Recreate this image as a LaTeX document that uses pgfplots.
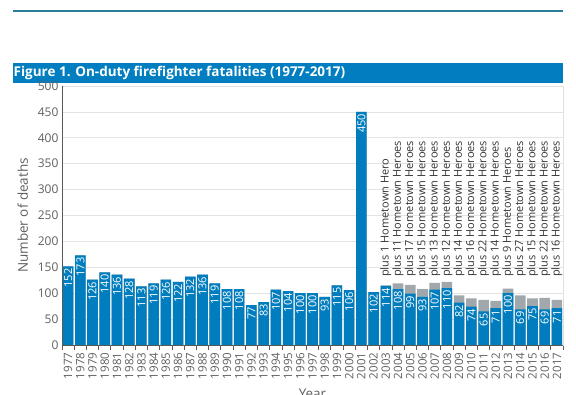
\documentclass[border=0pt]{standalone}
\usepackage{pgfplots}
\pgfplotsset{compat=1.18}
\usepackage{pgfplotstable}
\usepackage{fontspec}
\setmainfont{Open Sans}
\definecolor{barblue}{RGB}{0,125,190}
\definecolor{bargray}{RGB}{160,168,172}
\definecolor{titleblue}{RGB}{0,126,192}
\definecolor{lineteal}{RGB}{40,125,155}
\definecolor{ticktext}{RGB}{95,95,95}
\definecolor{tickmark}{RGB}{110,85,85}
\tikzset{hh/.style={rotate=90, anchor=west, inner sep=0pt, text=black!80, font=\fontsize{11}{12}\selectfont}}

\pgfplotstableread{
x year blue gray
0 1977 152 0
1 1978 173 0
2 1979 126 0
3 1980 140 0
4 1981 136 0
5 1982 128 0
6 1983 113 0
7 1984 119 0
8 1985 126 0
9 1986 122 0
10 1987 132 0
11 1988 136 0
12 1989 119 0
13 1990 108 0
14 1991 108 0
15 1992 77 0
16 1993 83 0
17 1994 107 0
18 1995 104 0
19 1996 100 0
20 1997 100 0
21 1998 93 0
22 1999 115 0
23 2000 106 0
24 2001 450 0
25 2002 102 0
26 2003 114 1
27 2004 108 11
28 2005 99 17
29 2006 93 15
30 2007 107 13
31 2008 110 12
32 2009 82 14
33 2010 74 16
34 2011 65 22
35 2012 71 14
36 2013 100 9
37 2014 69 27
38 2015 75 15
39 2016 69 22
40 2017 71 16
}\fatdata

\begin{document}
\begin{tikzpicture}[x=1pt,y=1pt]
\useasboundingbox (0pt,0pt) rectangle (576pt,-395pt);
\draw[lineteal, line width=1.8pt] (13pt,-11pt) -- (563pt,-11pt);
\fill[titleblue] (13pt,-63pt) rectangle (563pt,-83pt);
\node[anchor=west, text=white, font=\bfseries\fontsize{13.5}{15}\selectfont, inner sep=0pt] at (13.5pt,-73pt) {Figure 1. On-duty firefighter fatalities (1977-2017)};
\begin{axis}[
  at={(62pt,-345pt)}, anchor=south west,
  scale only axis, width=501pt, height=259pt,
  xmin=-0.5, xmax=40.5, ymin=0, ymax=500,
  ybar, bar shift=0pt, bar width=10.6pt,
  xtick={0,...,40},
  xticklabels={1977,1978,1979,1980,1981,1982,1983,1984,1985,1986,1987,1988,1989,1990,1991,1992,1993,1994,1995,1996,1997,1998,1999,2000,2001,2002,2003,2004,2005,2006,2007,2008,2009,2010,2011,2012,2013,2014,2015,2016,2017},
  x tick label style={rotate=90, anchor=east, text=ticktext, font=\fontsize{11.5}{12}\selectfont},
  major x tick style={draw=none},
  minor xtick={-0.5,0.5,...,40.5},
  every minor tick/.append style={draw=tickmark, line width=0.8pt},
  minor tick length=5pt,
  xtick pos=bottom, xtick align=outside,
  ytick={0,50,...,500},
  major y tick style={draw=none},
  y tick label style={text=ticktext, font=\fontsize{12}{13}\selectfont},
  ymajorgrids, grid style={draw=gray!22, line width=0.8pt},
  axis line style={draw=gray!25, line width=0.8pt},
  ylabel={Number of deaths}, xlabel={Year},
  ylabel style={text=ticktext, font=\fontsize{13.5}{14}\selectfont, yshift=3pt},
  xlabel style={text=ticktext, font=\fontsize{13.5}{14}\selectfont, yshift=-3pt},
  /pgf/number format/assume math mode=true,
  clip=false,
]
\addplot[fill=bargray, draw=none] table[x=x, y expr=\thisrow{blue}+\thisrow{gray}]{\fatdata};
\addplot[fill=barblue, draw=none, nodes near coords, point meta=explicit,
  every node near coord/.append style={rotate=90, anchor=east, text=white, inner sep=2pt, font=\fontsize{11}{12}\selectfont}]
  table[x=x, y=blue, meta=blue]{\fatdata};
\draw[gray!70!black, line width=1pt] (rel axis cs:0,0) -- (rel axis cs:0,1);
\draw[gray!70!black, line width=0.8pt] (rel axis cs:0,0) -- (rel axis cs:1,0);
\node[hh] at (axis cs:26,131) {plus 1 Hometown Hero};
\node[hh] at (axis cs:27,131) {plus 11 Hometown Heroes};
\node[hh] at (axis cs:28,131) {plus 17 Hometown Heroes};
\node[hh] at (axis cs:29,131) {plus 15 Hometown Heroes};
\node[hh] at (axis cs:30,131) {plus 13 Hometown Heroes};
\node[hh] at (axis cs:31,131) {plus 12 Hometown Heroes};
\node[hh] at (axis cs:32,131) {plus 14 Hometown Heroes};
\node[hh] at (axis cs:33,131) {plus 16 Hometown Heroes};
\node[hh] at (axis cs:34,131) {plus 22 Hometown Heroes};
\node[hh] at (axis cs:35,131) {plus 14 Hometown Heroes};
\node[hh] at (axis cs:36,131) {plus 9 Hometown Heroes};
\node[hh] at (axis cs:37,131) {plus 27 Hometown Heroes};
\node[hh] at (axis cs:38,131) {plus 15 Hometown Heroes};
\node[hh] at (axis cs:39,131) {plus 22 Hometown Heroes};
\node[hh] at (axis cs:40,131) {plus 16 Hometown Heroes};
\end{axis}
\end{tikzpicture}
\end{document}
